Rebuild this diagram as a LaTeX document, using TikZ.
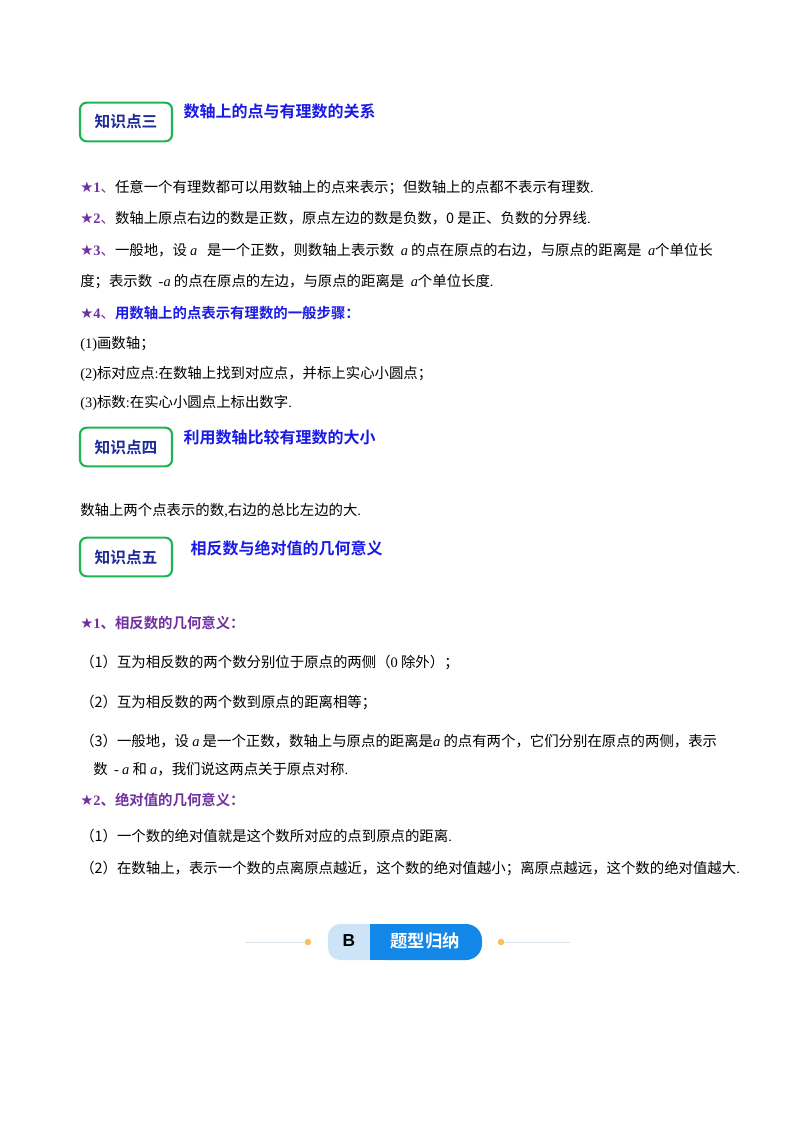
\documentclass[tikz,border=0pt]{standalone}
\usepackage{fontspec}
\setmainfont{Liberation Serif}
\newfontfamily\cjk{Noto Sans CJK SC}
\newfontfamily\cjkb{Noto Sans CJK SC Bold}
\newfontfamily\djv{DejaVu Sans}
\definecolor{purp}{HTML}{7030A0}
\definecolor{tblue}{HTML}{1A1AE6}
\definecolor{navy}{HTML}{1F2A9A}
\definecolor{grn}{HTML}{1DB552}
\definecolor{lblue}{HTML}{CDE4F8}
\definecolor{dblue}{HTML}{1488E8}
\definecolor{gold}{HTML}{F7C15A}
\newcommand{\st}{{\djv\fontsize{11}{11}\selectfont ★}}
\newcommand{\la}[1]{{\rmfamily #1}}
\newcommand{\ia}{{\rmfamily\itshape a}}
\begin{document}
\begin{tikzpicture}[x=0.75pt,y=-0.75pt,
  kbox/.style={draw=grn,line width=1.6pt,rounded corners=5pt,minimum width=69pt,minimum height=29pt,text=navy,font=\cjkb\fontsize{11.8}{11.8}\selectfont},
  ktitle/.style={anchor=west,text=tblue,font=\cjkb\fontsize{12}{12}\selectfont},
  body/.style={anchor=west,inner sep=0pt,font=\cjk\fontsize{10.8}{10.8}\selectfont},
  ph/.style={anchor=west,inner sep=0pt,text=purp,font=\cjkb\fontsize{10.8}{10.8}\selectfont}]
\useasboundingbox (0,0) rectangle (800,1132);
\node[kbox] (k3) at (126,122) {知识点三};
\node[ktitle] (t3) at (179,111) {数轴上的点与有理数的关系};
\node[body] (a1) at (80,188) {\textcolor{purp}{\st\la{\textbf{1}}、}任意一个有理数都可以用数轴上的点来表示；但数轴上的点都不表示有理数\la{.}};
\node[body] (a2) at (80,218) {\textcolor{purp}{\st\la{\textbf{2}}、}数轴上原点右边的数是正数，原点左边的数是负数，0 是正、负数的分界线\la{.}};
\node[body] (a3) at (80,250) {\textcolor{purp}{\st\la{\textbf{3}}、}一般地，设 \ia{} \ \ 是一个正数，则数轴上表示数 \ \ia{} 的点在原点的右边，与原点的距离是 \ \ia{}个单位长};
\node[body] (a3b) at (80,282) {度；表示数 \ \la{-}\ia{} 的点在原点的左边，与原点的距离是 \ \ia{}个单位长度\la{.}};
\node[body] (a4) at (80,313) {\textcolor{purp}{\st\la{\textbf{4}}、}{\cjkb\textcolor{tblue}{用数轴上的点表示有理数的一般步骤：}}};
\node[body] (s1) at (80,344) {\la{(1)}画数轴；};
\node[body] (s2) at (80,374) {\la{(2)}标对应点\la{:}在数轴上找到对应点，并标上实心小圆点；};
\node[body] (s3) at (80,403) {\la{(3)}标数\la{:}在实心小圆点上标出数字\la{.}};
\node[kbox] (k4) at (126,447) {知识点四};
\node[ktitle] (t4) at (179,437) {利用数轴比较有理数的大小};
\node[body] (b1) at (80,511) {数轴上两个点表示的数\la{,}右边的总比左边的大\la{.}};
\node[kbox] (k5) at (126,557) {知识点五};
\node[ktitle] (t5) at (186,548) {相反数与绝对值的几何意义};
\node[ph] (c1) at (80,623) {\st\la{\textbf{1}}、相反数的几何意义：};
\node[body] (c11) at (80,662) {（1）互为相反数的两个数分别位于原点的两侧（\la{0} 除外）；};
\node[body] (c12) at (80,702) {（2）互为相反数的两个数到原点的距离相等；};
\node[body] (c13) at (80,741) {（3）一般地，设 \ia{} 是一个正数，数轴上与原点的距离是\ia{} 的点有两个，它们分别在原点的两侧，表示};
\node[body] (c13b) at (93,769) {数 \ \la{-} \ia{} 和 \ia{}，我们说这两点关于原点对称\la{.}};
\node[ph] (c2) at (80,800) {\st\la{\textbf{2}}、绝对值的几何意义：};
\node[body] (c21) at (80,836) {（1）一个数的绝对值就是这个数所对应的点到原点的距离\la{.}};
\node[body] (c22) at (80,868) {（2）在数轴上，表示一个数的点离原点越近，这个数的绝对值越小；离原点越远，这个数的绝对值越大\la{.}};
% banner
\draw[lblue!80!gray!60,line width=0.6pt] (245,942) -- (305,942);
\draw[lblue!80!gray!60,line width=0.6pt] (505,942) -- (570,942);
\fill[gold] (308,942) circle (3.3);
\fill[gold] (501,942) circle (3.3);
\fill[lblue,rounded corners=9pt] (328,924) rectangle (400,960);
\fill[dblue,rounded corners=12pt] (370,924) rectangle (482,960);
\fill[dblue] (370,924) rectangle (390,960);
\node[font=\fontspec{Liberation Sans Bold}\fontsize{13}{13}\selectfont] (bb) at (349,941) {B};
\node[text=white,font=\cjkb\fontsize{13}{13}\selectfont] (bt) at (425,941) {题型归纳};
\end{tikzpicture}
\end{document}
